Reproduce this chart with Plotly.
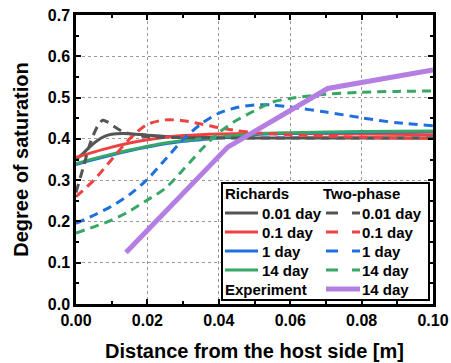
import plotly.graph_objects as go

# ---------------- data ----------------
rich_001_x = [0, 0.002, 0.004, 0.006, 0.008, 0.010, 0.013, 0.016, 0.020, 0.025, 0.030, 0.040, 0.060, 0.080, 0.100]
rich_001_y = [0.350, 0.365, 0.382, 0.396, 0.406, 0.411, 0.413, 0.412, 0.409, 0.406, 0.404, 0.403, 0.402, 0.402, 0.402]

rich_01_x = [0, 0.005, 0.010, 0.015, 0.020, 0.025, 0.030, 0.040, 0.050, 0.060, 0.080, 0.100]
rich_01_y = [0.355, 0.368, 0.380, 0.390, 0.398, 0.404, 0.408, 0.412, 0.413, 0.413, 0.412, 0.410]

rich_1_x = [0, 0.005, 0.010, 0.015, 0.020, 0.025, 0.030, 0.035, 0.050, 0.060, 0.080, 0.100]
rich_1_y = [0.338, 0.350, 0.361, 0.371, 0.380, 0.388, 0.394, 0.398, 0.410, 0.413, 0.416, 0.418]

rich_14_x = [0, 0.005, 0.010, 0.015, 0.020, 0.025, 0.030, 0.035, 0.050, 0.060, 0.080, 0.100]
rich_14_y = [0.340, 0.352, 0.363, 0.373, 0.382, 0.390, 0.396, 0.400, 0.412, 0.415, 0.418, 0.419]

tp_001_x = [0, 0.002, 0.004, 0.006, 0.0075, 0.009, 0.011, 0.013, 0.016, 0.020, 0.030, 0.050, 0.100]
tp_001_y = [0.270, 0.330, 0.390, 0.430, 0.445, 0.440, 0.428, 0.418, 0.410, 0.405, 0.403, 0.402, 0.402]

tp_01_x = [0, 0.005, 0.010, 0.015, 0.020, 0.025, 0.030, 0.035, 0.040, 0.045, 0.050, 0.060, 0.080, 0.100]
tp_01_y = [0.260, 0.300, 0.350, 0.400, 0.435, 0.446, 0.444, 0.436, 0.427, 0.420, 0.415, 0.410, 0.404, 0.401]

tp_1_x = [0, 0.005, 0.010, 0.015, 0.020, 0.025, 0.030, 0.035, 0.040, 0.045, 0.050, 0.055, 0.060, 0.070, 0.080, 0.090, 0.100]
tp_1_y = [0.195, 0.215, 0.237, 0.265, 0.302, 0.350, 0.398, 0.436, 0.462, 0.476, 0.482, 0.482, 0.477, 0.465, 0.451, 0.439, 0.432]

tp_14_x = [0, 0.005, 0.010, 0.015, 0.020, 0.025, 0.030, 0.035, 0.040, 0.045, 0.050, 0.055, 0.060, 0.070, 0.080, 0.090, 0.100]
tp_14_y = [0.172, 0.187, 0.203, 0.225, 0.252, 0.280, 0.325, 0.373, 0.415, 0.445, 0.468, 0.489, 0.498, 0.508, 0.513, 0.515, 0.516]

exp_x = [0.014, 0.0425, 0.0705, 0.100]
exp_y = [0.125, 0.380, 0.522, 0.567]

legend_labels = ["0.01 day", "0.1 day", "1 day", "14 day"]
x_ticks = [0, 0.02, 0.04, 0.06, 0.08, 0.10]
x_tick_text = ["0.00", "0.02", "0.04", "0.06", "0.08", "0.10"]
y_ticks = [0, 0.1, 0.2, 0.3, 0.4, 0.5, 0.6, 0.7]
y_tick_text = ["0.0", "0.1", "0.2", "0.3", "0.4", "0.5", "0.6", "0.7"]

# ---------------- styles ----------------
GRAY = "#555555"
RED = "#ee4242"
BLUE = "#1f6fe0"
GREEN = "#38a766"
PURPLE = "#b47ee2"
colors = [GRAY, RED, BLUE, GREEN]
DASH = "9px,6px"
FONT = "Arial, Liberation Sans, sans-serif"

fig = go.Figure()

rich = [(rich_001_x, rich_001_y), (rich_01_x, rich_01_y), (rich_1_x, rich_1_y), (rich_14_x, rich_14_y)]
tp = [(tp_001_x, tp_001_y), (tp_01_x, tp_01_y), (tp_1_x, tp_1_y), (tp_14_x, tp_14_y)]

for (xs, ys), c, lab in zip(rich, colors, legend_labels):
    fig.add_trace(go.Scatter(x=xs, y=ys, mode="lines", name="Richards " + lab,
                             line=dict(color=c, width=3, shape="spline", smoothing=0.8),
                             showlegend=False))
for (xs, ys), c, lab in zip(tp, colors, legend_labels):
    fig.add_trace(go.Scatter(x=xs, y=ys, mode="lines", name="Two-phase " + lab,
                             line=dict(color=c, width=3, dash=DASH, shape="spline", smoothing=0.8),
                             showlegend=False))
fig.add_trace(go.Scatter(x=exp_x, y=exp_y, mode="lines", name="Experiment 14 day",
                         line=dict(color=PURPLE, width=5), showlegend=False))

# ---------------- legend (manual) ----------------
L, R, T, B = 76, 433, 15, 304
def px(xp):
    return (xp - L) / (R - L)
def py(yp):
    return (B - yp) / (B - T)

shapes = []
annotations = []
shapes.append(dict(type="rect", xref="paper", yref="paper",
                   x0=px(222), x1=px(429), y0=py(300), y1=py(183),
                   line=dict(color="black", width=2), fillcolor="white", layer="above"))
lfont = dict(family=FONT, size=15, color="black", weight="bold")
annotations.append(dict(x=px(223), y=py(194), xref="paper", yref="paper", text="Richards",
                        showarrow=False, xanchor="left", yanchor="middle", font=lfont))
annotations.append(dict(x=px(321), y=py(194), xref="paper", yref="paper", text="Two-phase",
                        showarrow=False, xanchor="left", yanchor="middle", font=lfont))
annotations.append(dict(x=px(223), y=py(289), xref="paper", yref="paper", text="Experiment",
                        showarrow=False, xanchor="left", yanchor="middle", font=lfont))
row_y = [213, 232, 251, 270]
for c, lab, ry in zip(colors, legend_labels, row_y):
    shapes.append(dict(type="line", xref="paper", yref="paper", x0=px(225), x1=px(258),
                       y0=py(ry), y1=py(ry), line=dict(color=c, width=3), layer="above"))
    shapes.append(dict(type="line", xref="paper", yref="paper", x0=px(326), x1=px(338),
                       y0=py(ry), y1=py(ry), line=dict(color=c, width=3), layer="above"))
    shapes.append(dict(type="line", xref="paper", yref="paper", x0=px(352), x1=px(360),
                       y0=py(ry), y1=py(ry), line=dict(color=c, width=3), layer="above"))
    annotations.append(dict(x=px(260), y=py(ry), xref="paper", yref="paper", text=lab,
                            showarrow=False, xanchor="left", yanchor="middle", font=lfont))
    annotations.append(dict(x=px(360), y=py(ry), xref="paper", yref="paper", text=lab,
                            showarrow=False, xanchor="left", yanchor="middle", font=lfont))
shapes.append(dict(type="line", xref="paper", yref="paper", x0=px(326), x1=px(360),
                   y0=py(289), y1=py(289), line=dict(color=PURPLE, width=5), layer="above"))
annotations.append(dict(x=px(360), y=py(289), xref="paper", yref="paper", text="14 day",
                        showarrow=False, xanchor="left", yanchor="middle", font=lfont))

axis_common = dict(showline=True, linecolor="black", linewidth=2.5, mirror="ticks",
                   ticks="inside", ticklen=5, tickwidth=2, tickcolor="black",
                   showgrid=True, gridcolor="#999999", gridwidth=1, griddash="dot",
                   zeroline=False, automargin=False,
                   tickfont=dict(family=FONT, size=16, color="black", weight="bold"))

fig.update_layout(
    width=451, height=363,
    margin=dict(l=L, r=451 - R, t=T, b=363 - B),
    paper_bgcolor="white", plot_bgcolor="white",
    showlegend=False,
    shapes=shapes, annotations=annotations,
    xaxis=dict(range=[0, 0.1], tickvals=x_ticks, ticktext=x_tick_text,
               minor=dict(dtick=0.01, ticks="inside", ticklen=3, tickwidth=2, tickcolor="black", showgrid=False),
               title=dict(text="Distance from the host side [m]", standoff=17,
                          font=dict(family=FONT, size=20, color="black", weight="bold")),
               **axis_common),
    yaxis=dict(range=[0, 0.7], tickvals=y_ticks, ticktext=y_tick_text,
               minor=dict(dtick=0.05, ticks="inside", ticklen=3, tickwidth=2, tickcolor="black", showgrid=False),
               title=dict(text="Degree of saturation", standoff=14,
                          font=dict(family=FONT, size=20, color="black", weight="bold")),
               **axis_common),
)

fig.write_html("out.html", config={"displayModeBar": False},
               post_script="document.body.style.margin='0';document.body.style.overflow='hidden';")
